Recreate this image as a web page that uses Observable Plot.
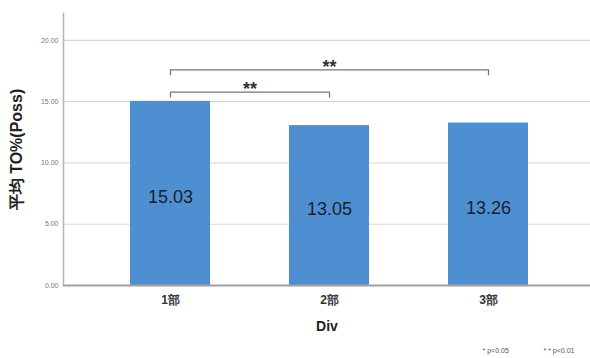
<!DOCTYPE html>
<html><head><meta charset="utf-8">
<script src="https://cdn.jsdelivr.net/npm/d3@7"></script>
<script src="https://cdn.jsdelivr.net/npm/@observablehq/plot@0.6"></script>
<style>body{margin:0;background:#fff;} #chart svg{display:block;}</style>
</head><body><div id="chart"></div>
<script>
const categories = ["1部", "2部", "3部"];
const values = [15.03, 13.05, 13.26];
const yTicks = [0, 5, 10, 15, 20];
const bracketFrom = ["1部", "1部"];
const bracketTo = ["2部", "3部"];
const bracketLevel = [15.78, 17.6];
const bracketLabel = ["**", "**"];
const legendItems = ["* p<0.05", "* * p<0.01"];

const bars = categories.map((c, i) => ({cat: c, value: values[i]}));
const bracketPts = [];
bracketFrom.forEach((f, i) => {
  const lv = bracketLevel[i], drop = 0.4;
  bracketPts.push({k: i, x: f, y: lv - drop});
  bracketPts.push({k: i, x: f, y: lv});
  bracketPts.push({k: i, x: bracketTo[i], y: lv});
  bracketPts.push({k: i, x: bracketTo[i], y: lv - drop});
});

const xOpts = {domain: categories, range: [63, 594.7], paddingInner: 0.5, paddingOuter: 0.42};
const yOpts = {domain: [0, 22.2]};
const base = {width: 590, height: 358, marginLeft: 63, marginRight: 0, marginTop: 13, marginBottom: 73};

function build(starMarks) {
  return Plot.plot({
    ...base,
    style: {fontFamily: "'Liberation Sans', Arial, sans-serif", background: "#fff"},
    x: xOpts,
    y: yOpts,
    marks: [
      Plot.gridY(yTicks, {stroke: "#d6d6d6", strokeOpacity: 1, strokeWidth: 1.2}),
      Plot.frame({anchor: "left", stroke: "#b5b5b5", strokeWidth: 1.5}),
      Plot.barY(bars, {x: "cat", y: "value", fill: "#4e8fd2"}),
      Plot.ruleY([0], {stroke: "#a0a0a0", strokeWidth: 2}),
      Plot.text(bars, {x: "cat", y: d => d.value / 2, text: d => d.value.toFixed(2), fontSize: 18, fill: "#1b1e2e", dy: 4}),
      Plot.line(bracketPts, {x: "x", y: "y", z: "k", stroke: "#777", strokeWidth: 1.3}),
      ...starMarks,
      Plot.axisY(yTicks, {tickSize: 0, tickPadding: 5, tickFormat: d3.format(".2f"), fontSize: 7, fill: "#777", label: null}),
      Plot.axisY([], {label: "平均 TO%(Poss)", labelAnchor: "center", labelArrow: "none", labelOffset: 53,
        fontSize: 16, fontWeight: "bold", fill: "#222"}),
      Plot.axisX({tickSize: 0, tickPadding: 10, fontSize: 12, fill: "#333", fontWeight: "bold", label: null}),
      Plot.axisX([], {label: "Div", labelAnchor: "center", labelArrow: "none", labelOffset: 45,
        fontSize: 14, fontWeight: "bold", fill: "#222"}),
      Plot.text([legendItems[0]], {frameAnchor: "bottom-left", dx: 419, dy: 67, textAnchor: "start", fontSize: 7, fill: "#555"}),
      Plot.text([legendItems[1]], {frameAnchor: "bottom-left", dx: 480, dy: 67, textAnchor: "start", fontSize: 7, fill: "#555"})
    ]
  });
}

// First pass to read the x scale, then place each star label at the bracket midpoint
const probe = build([]);
const xs = probe.scale("x");
const starMarks = bracketFrom.map((f, i) => {
  const half = (xs.apply(bracketTo[i]) - xs.apply(f)) / 2;
  return Plot.text([{x: f, y: bracketLevel[i], label: bracketLabel[i]}],
    {x: "x", y: "y", text: "label", fontSize: 18, fill: "#333", fontWeight: "bold", dx: half, dy: -3});
});
document.getElementById("chart").appendChild(build(starMarks));
</script></body></html>
